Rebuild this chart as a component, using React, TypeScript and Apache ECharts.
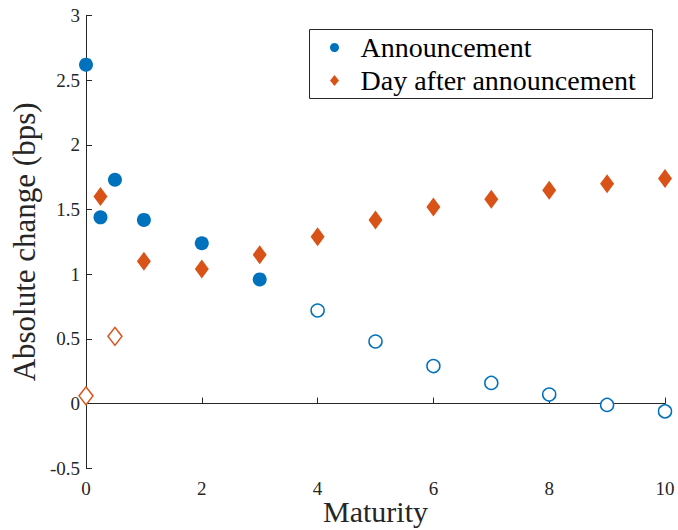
import React, { useEffect, useRef } from "react";
import * as echarts from "echarts";

const maturityFilledA = [0, 0.25, 0.5, 1, 2, 3];
const announcementFilled = [2.62, 1.44, 1.73, 1.42, 1.24, 0.96];
const maturityHollowA = [4, 5, 6, 7, 8, 9, 10];
const announcementHollow = [0.72, 0.48, 0.29, 0.16, 0.07, -0.01, -0.06];
const maturityFilledD = [0.25, 1, 2, 3, 4, 5, 6, 7, 8, 9, 10];
const dayAfterFilled = [1.6, 1.1, 1.04, 1.15, 1.29, 1.42, 1.52, 1.58, 1.65, 1.7, 1.74];
const maturityHollowD = [0, 0.5];
const dayAfterHollow = [0.06, 0.52];

const legendLabels = ["Announcement", "Day after announcement"];
const xTickInterval = 2;
const yTickInterval = 0.5;

const BLUE = "#0072BD";
const ORANGE = "#D95319";
const AXIS = "#262626";
const FONT = "Liberation Serif";

const pairs = (xs: number[], ys: number[]) => xs.map((x, i) => [x, ys[i]]);

export default function App() {
  const ref = useRef<HTMLDivElement>(null);
  useEffect(() => {
    if (!ref.current) return;
    const chart = echarts.init(ref.current, undefined, { renderer: "svg" });
    chart.setOption({
      animation: false,
      backgroundColor: "#ffffff",
      textStyle: { fontFamily: FONT },
      grid: { left: 86, right: 13, top: 15.5, bottom: 61.7, containLabel: false, outerBoundsMode: "none" },
      xAxis: {
        type: "value",
        min: 0,
        max: 10,
        interval: xTickInterval,
        name: "Maturity",
        nameLocation: "middle",
        nameGap: 28,
        nameMoveOverlap: false,
        nameTextStyle: { fontFamily: FONT, fontSize: 30, color: AXIS },
        axisLine: { show: true, lineStyle: { color: AXIS, width: 1 } },
        axisTick: { show: true, inside: true, length: 6, lineStyle: { color: AXIS } },
        axisLabel: { fontFamily: FONT, fontSize: 19, color: AXIS, margin: 11 },
        splitLine: { show: false },
      },
      yAxis: {
        type: "value",
        min: -0.5,
        max: 3,
        interval: yTickInterval,
        name: "Absolute change (bps)",
        nameLocation: "middle",
        nameGap: 46,
        nameMoveOverlap: false,
        nameRotate: 90,
        nameTextStyle: { fontFamily: FONT, fontSize: 31, color: AXIS },
        axisLine: { show: true, lineStyle: { color: AXIS, width: 1 } },
        axisTick: { show: true, inside: true, length: 6, lineStyle: { color: AXIS } },
        axisLabel: { fontFamily: FONT, fontSize: 19, color: AXIS, margin: 6 },
        splitLine: { show: false },
      },
      series: [
        {
          name: legendLabels[0],
          type: "scatter",
          clip: false,
          symbol: "circle",
          symbolSize: 14,
          itemStyle: { color: BLUE, opacity: 1 },
          data: pairs(maturityFilledA, announcementFilled),
        },
        {
          name: legendLabels[0] + " (hollow)",
          type: "scatter",
          clip: false,
          symbol: "circle",
          symbolSize: 13,
          itemStyle: { color: "#ffffff", borderColor: BLUE, borderWidth: 1.5, opacity: 1 },
          data: pairs(maturityHollowA, announcementHollow),
        },
        {
          name: legendLabels[1],
          type: "scatter",
          clip: false,
          symbol: "diamond",
          symbolSize: [14, 19],
          itemStyle: { color: ORANGE, opacity: 1 },
          data: pairs(maturityFilledD, dayAfterFilled),
        },
        {
          name: legendLabels[1] + " (hollow)",
          type: "scatter",
          clip: false,
          symbol: "diamond",
          symbolSize: [14, 18],
          itemStyle: { color: "#ffffff", borderColor: ORANGE, borderWidth: 1.5, opacity: 1 },
          data: pairs(maturityHollowD, dayAfterHollow),
        },
      ],
      graphic: [
        {
          type: "group",
          left: 309,
          top: 29,
          z: 100,
          children: [
            {
              type: "rect",
              shape: { x: 0, y: 0, width: 343, height: 69 },
              style: { fill: "#ffffff", stroke: AXIS, lineWidth: 1 },
            },
            {
              type: "circle",
              shape: { cx: 25, cy: 18, r: 4.5 },
              style: { fill: BLUE },
            },
            {
              type: "polygon",
              shape: { points: [[25, 45.5], [29.5, 51], [25, 56.5], [20.5, 51]] },
              style: { fill: ORANGE },
            },
            {
              type: "text",
              x: 51,
              y: 18,
              style: {
                text: legendLabels[0],
                fontFamily: FONT,
                fontSize: 28,
                fill: "#000000",
                verticalAlign: "middle",
                align: "left",
              },
            },
            {
              type: "text",
              x: 51,
              y: 51,
              style: {
                text: legendLabels[1],
                fontFamily: FONT,
                fontSize: 28,
                fill: "#000000",
                verticalAlign: "middle",
                align: "left",
              },
            },
          ],
        },
      ],
    });
    return () => chart.dispose();
  }, []);
  return (
    <div
      ref={ref}
      style={{ position: "fixed", left: 0, top: 0, width: 678, height: 530, background: "#fff" }}
    />
  );
}
